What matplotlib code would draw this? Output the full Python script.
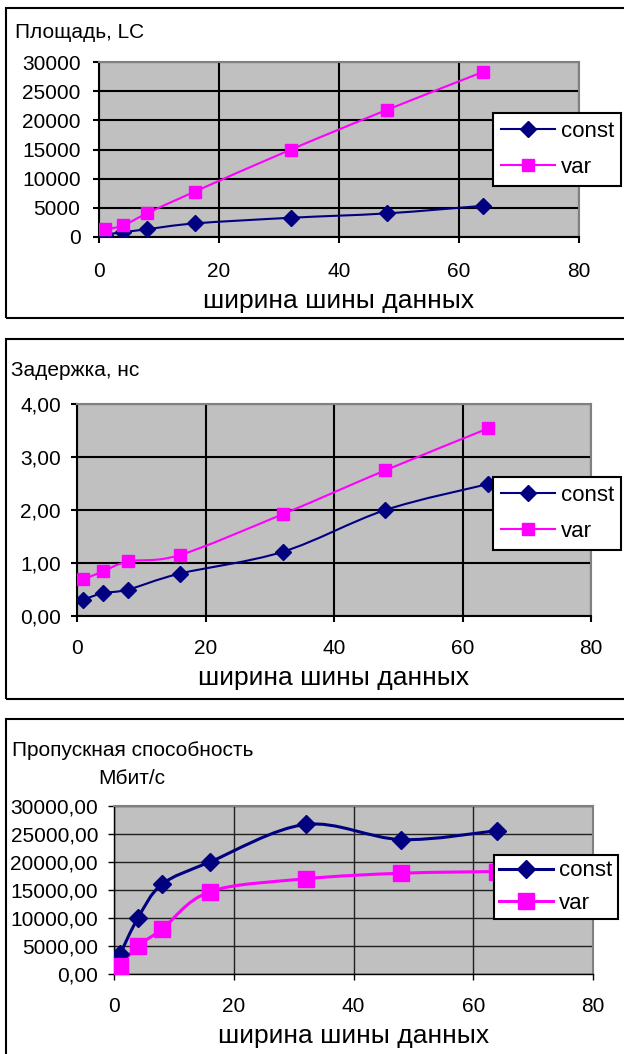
import numpy as np
import matplotlib
matplotlib.use('Agg')
import matplotlib.pyplot as plt
from matplotlib.path import Path
from matplotlib.patches import PathPatch, Rectangle
from matplotlib.lines import Line2D
from matplotlib.ticker import FuncFormatter

plt.rcParams['font.family'] = ['Liberation Sans', 'DejaVu Sans']

bus_width = [1, 4, 8, 16, 32, 48, 64]
area_const = [420, 820, 1330, 2330, 3300, 4050, 5350]
area_var = [1330, 1980, 4050, 7800, 15000, 21800, 28300]
delay_const = [0.31, 0.43, 0.50, 0.80, 1.21, 2.00, 2.49]
delay_var = [0.69, 0.84, 1.03, 1.15, 1.92, 2.75, 3.54]
thr_const = [3500, 10000, 16000, 20000, 26700, 24000, 25600]
thr_var = [1500, 5000, 8000, 14700, 17000, 18000, 18300]

x_ticks = [0, 20, 40, 60, 80]
area_ticks = [0, 5000, 10000, 15000, 20000, 25000, 30000]
delay_ticks = [0, 1, 2, 3, 4]
thr_ticks = [0, 5000, 10000, 15000, 20000, 25000, 30000]
series_names = ['const', 'var']
x_title = 'ширина шины данных'

NAVY = '#000080'
MAGENTA = '#FF00FF'
W, H = 624, 1054

fig = plt.figure(figsize=(W / 100, H / 100), dpi=100)


def smooth_path(x, y):
    # сглаженная линия как в Excel (кривые Безье через точки)
    p = np.column_stack([x, y]).astype(float)
    pad = np.vstack([p[0], p, p[-1]])
    verts = [p[0]]
    codes = [Path.MOVETO]
    for i in range(len(p) - 1):
        c1 = pad[i + 1] + (pad[i + 2] - pad[i]) / 6
        c2 = pad[i + 2] - (pad[i + 3] - pad[i + 1]) / 6
        verts += [c1, c2, p[i + 1]]
        codes += [Path.CURVE4] * 3
    return Path(verts, codes)


def fig_rect(x0, y0, x1, y1):
    return [x0 / W, 1 - y1 / H, (x1 - x0) / W, (y1 - y0) / H]


def panel(ax_px, frame_px, const, var, yticks, fmt, legend_xy, xpad, ypad, label_y,
          ms_d=8.6, ms_s=9.0, lw=1.5, grid_lw=1.5, grid_color='black',
          borderpad=0.34, labelspacing=0.7):
    x0, y0, x1, y1 = frame_px
    fig.add_artist(Rectangle((x0 / W, 1 - y1 / H), (x1 - x0) / W, (y1 - y0) / H,
                             transform=fig.transFigure, fill=False, ec='black',
                             lw=1.5, clip_on=False))
    ax = fig.add_axes(fig_rect(*ax_px))
    ax.set_facecolor('#C0C0C0')
    ax.set_xlim(x_ticks[0], x_ticks[-1])
    ax.set_ylim(yticks[0], yticks[-1])
    ax.set_xticks(x_ticks)
    ax.set_yticks(yticks)
    ax.yaxis.set_major_formatter(FuncFormatter(fmt))
    ax.set_axisbelow(True)
    ax.grid(True, color=grid_color, lw=grid_lw)
    for s in ['left', 'bottom']:
        ax.spines[s].set_color('black')
        ax.spines[s].set_linewidth(grid_lw)
    for s in ['top', 'right']:
        ax.spines[s].set_color('#808080')
        ax.spines[s].set_linewidth(1.5)
    ax.tick_params(direction='out', length=4.3, width=grid_lw, labelsize=15)
    ax.tick_params(axis='x', pad=xpad)
    ax.tick_params(axis='y', pad=ypad)

    ax.add_patch(PathPatch(smooth_path(bus_width, const), fill=False, ec=NAVY, lw=lw,
                           transform=ax.transData, zorder=2))
    ax.add_patch(PathPatch(smooth_path(bus_width, var), fill=False, ec=MAGENTA, lw=lw,
                           transform=ax.transData, zorder=2))
    ax.plot(bus_width, const, ls='none', marker='D', ms=ms_d, color=NAVY, zorder=3)
    ax.plot(bus_width, var, ls='none', marker='s', ms=ms_s, color=MAGENTA, zorder=3)

    handles = [Line2D([], [], color=NAVY, lw=lw, marker='D', ms=ms_d),
               Line2D([], [], color=MAGENTA, lw=lw, marker='s', ms=ms_s)]
    leg = ax.legend(handles, series_names, loc='upper left',
                    bbox_to_anchor=(legend_xy[0] / W, 1 - legend_xy[1] / H),
                    bbox_transform=fig.transFigure, borderaxespad=0, fancybox=False,
                    edgecolor='black', framealpha=1, fontsize=16, handlelength=2.43,
                    handletextpad=0.27, borderpad=borderpad, labelspacing=labelspacing)
    leg.get_frame().set_linewidth(1.5)

    ax.set_xlabel(x_title, fontsize=19, va='center')
    ax.xaxis.set_label_coords(0.5, -(label_y - ax_px[3]) / (ax_px[3] - ax_px[1]))
    return ax


def fmt_int(v, pos):
    return f'{v:.0f}'


def fmt_comma(v, pos):
    return f'{v:.2f}'.replace('.', ',')


panel((99, 62, 579, 237), (6, 8, 700, 318), area_const, area_var, area_ticks, fmt_int,
      (493, 113), 14, 9, 301)
fig.text(15 / W, 1 - 33 / H, 'Площадь, LC', fontsize=15, va='center', ha='left')

panel((77, 404, 591, 616), (6, 339, 700, 699), delay_const, delay_var, delay_ticks, fmt_comma,
      (493, 477), 12, 7.2, 678)
fig.text(11 / W, 1 - 371 / H, 'Задержка, нс', fontsize=15, va='center', ha='left')

panel((114, 806, 593, 974), (6, 719, 700, 1080), thr_const, thr_var, thr_ticks, fmt_comma,
      (494, 855), 12.6, 7.2, 1036, ms_d=9.6, ms_s=11.5, lw=2.2, grid_lw=1.0,
      grid_color='#202020', borderpad=0.24, labelspacing=0.53)
fig.text(12 / W, 1 - 751 / H, 'Пропускная способность', fontsize=15, va='center', ha='left')
fig.text(98 / W, 1 - 779 / H, 'Мбит/с', fontsize=15, va='center', ha='left')

fig.savefig('out.png', dpi=100)
